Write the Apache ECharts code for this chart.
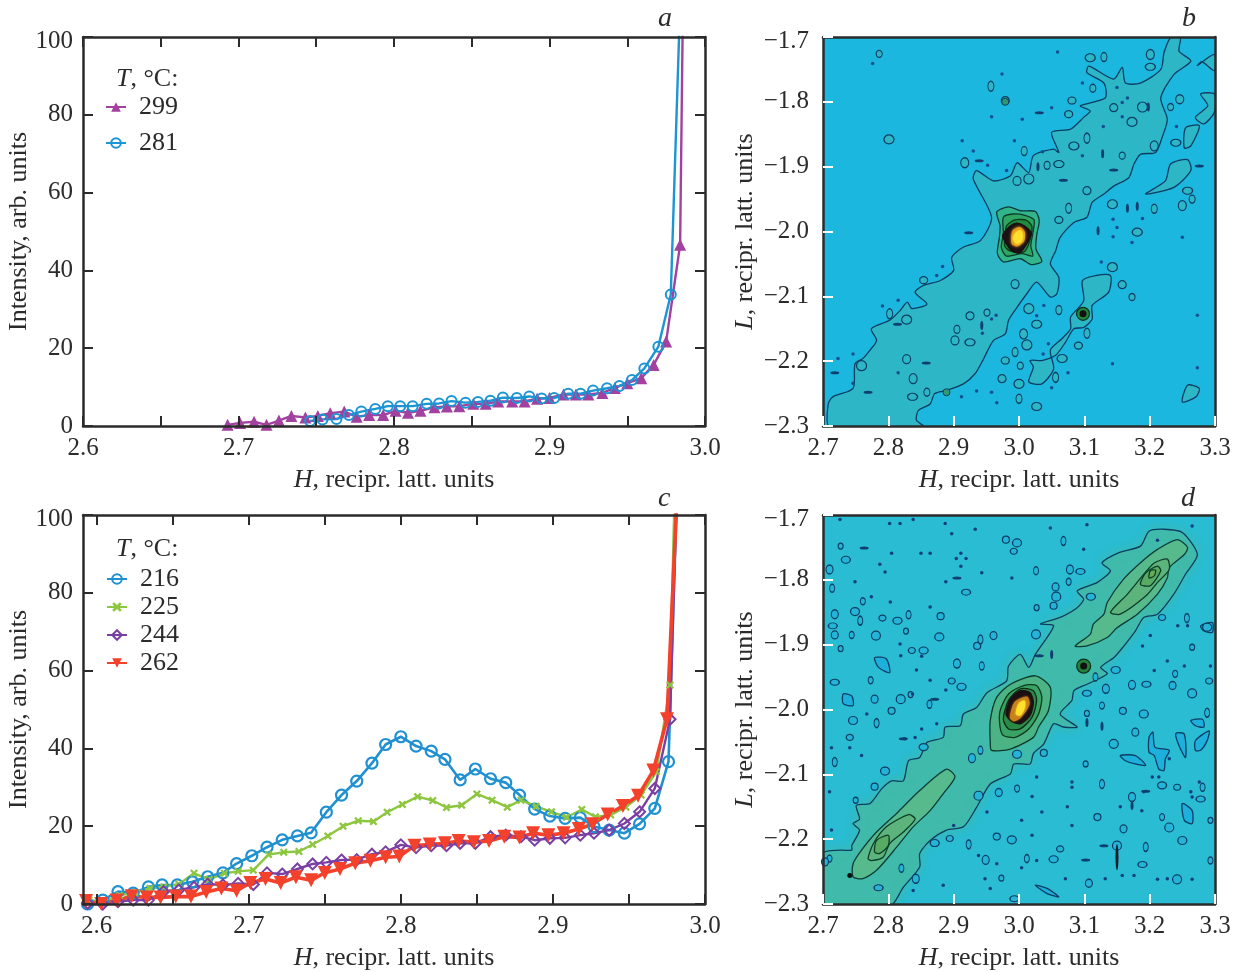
<!DOCTYPE html>
<html><head><meta charset="utf-8">
<style>html,body{margin:0;padding:0;background:#fff}#c{width:1240px;height:972px}</style>
<script src="https://cdn.jsdelivr.net/npm/echarts@6/dist/echarts.min.js"></script>
</head><body><div id="c"></div>
<script>
// ---------- panel a ----------
const aH299 = [2.693,2.701,2.710,2.718,2.726,2.734,2.743,2.751,2.759,2.768,2.776,2.784,2.793,2.801,2.809,2.817,2.826,2.834,2.842,2.851,2.859,2.867,2.876,2.884,2.892,2.900,2.909,2.917,2.925,2.934,2.942,2.950,2.959,2.967,2.975,2.984,2.992];
const aV299 = [0.3,0.8,1.1,0.3,1.4,2.6,2.2,2.6,3.3,3.7,2.4,2.8,2.8,3.9,3.4,3.9,4.8,5,5.1,5.7,5.7,6.3,6.3,6.3,7,7.2,8.1,8.1,8.1,8.5,9.8,11,12.3,15.7,21.7,46.6,320];
const aH281 = [2.746,2.754,2.763,2.771,2.779,2.788,2.796,2.804,2.812,2.821,2.829,2.837,2.846,2.854,2.862,2.870,2.879,2.887,2.895,2.903,2.912,2.920,2.928,2.937,2.945,2.953,2.961,2.970,2.978,2.987];
const aV281 = [1.3,1.7,1.8,2.8,3.7,4.4,5.1,5.1,5.1,5.7,5.8,6.4,6,6.2,6.5,7.3,7.2,7.6,7.1,7.2,8.3,8.3,9.1,9.7,10.3,11.8,14.8,20.4,33.8,146];
// ---------- panel c ----------
const cH216 = [2.594,2.604,2.614,2.624,2.634,2.643,2.653,2.663,2.673,2.683,2.692,2.702,2.712,2.722,2.732,2.741,2.751,2.761,2.771,2.781,2.790,2.800,2.810,2.820,2.829,2.839,2.849,2.859,2.869,2.878,2.888,2.898,2.908,2.918,2.927,2.937,2.947,2.957,2.967,2.976,2.986];
const cV216 = [0,1,3.2,2.8,4.4,4.9,4.9,5.7,7,8,10.4,12.4,14.6,16.5,17.5,18.3,23.6,28,31.6,36.2,41,43,40.6,39.3,37.2,31.9,34.7,32.2,31.2,28,24.4,22.6,22,22.2,19.9,19,18.2,20.6,24.6,36.6,160];
const cH225 = [2.595,2.605,2.615,2.625,2.635,2.644,2.654,2.664,2.674,2.684,2.693,2.703,2.713,2.723,2.733,2.742,2.752,2.762,2.772,2.782,2.791,2.801,2.811,2.821,2.830,2.840,2.850,2.860,2.870,2.879,2.889,2.899,2.909,2.919,2.928,2.938,2.948,2.958,2.968,2.977,2.987];
const cV225 = [1,0.6,2.2,2.9,4,4.4,5.1,7.9,6.3,7.9,8.4,8.7,12.7,13.3,13.5,15.3,17.5,20,21.4,21.2,23.6,25.6,27.6,26.6,24.8,25.4,28.3,26.7,24.9,26.7,25.1,23.7,22.3,24.3,22.4,22.9,24.9,28,34,56.3,221];
const cH244 = [2.594,2.604,2.614,2.624,2.634,2.644,2.654,2.664,2.673,2.683,2.693,2.703,2.712,2.722,2.732,2.742,2.751,2.761,2.771,2.781,2.790,2.800,2.810,2.820,2.830,2.839,2.849,2.859,2.869,2.879,2.888,2.898,2.908,2.918,2.927,2.937,2.947,2.957,2.967,2.977,2.987];
const cV244 = [0.2,0,0.6,1,1,3.2,3.6,4.3,5.1,4.9,5.3,5,8,7.7,9,10.3,10.7,11.3,11.4,12.8,13.4,15.2,14.5,15,15,15.6,15.6,17.3,17.7,17.3,16.4,16.9,17,17.7,18.2,19,20.7,23.7,29.7,47.5,179];
const cH262 = [2.593,2.603,2.613,2.623,2.633,2.642,2.652,2.662,2.672,2.682,2.692,2.701,2.711,2.721,2.731,2.741,2.750,2.760,2.770,2.780,2.790,2.799,2.809,2.819,2.829,2.838,2.848,2.858,2.868,2.878,2.887,2.897,2.907,2.917,2.926,2.936,2.946,2.956,2.966,2.975,2.985];
const cV262 = [0.8,0,0.9,2,1.7,1.7,1.9,1.9,3.1,4,3.4,5.4,6.4,5.4,6.9,6.1,8,9,10.5,11.1,12,12.2,15,15.3,15.6,16.2,15.9,16.2,17.3,17.1,18.2,17.7,18.2,19.3,20.5,23,25.2,27.8,34.3,47.5,135];
// ---------- tick labels ----------
const xTicks = [2.6,2.65,2.7,2.75,2.8,2.85,2.9,2.95,3.0];
const xLabels = [2.6,2.7,2.8,2.9,3.0];
const mapTicksH = [2.7,2.8,2.9,3.0,3.1,3.2,3.3];
const mapTicksL = [-2.3,-2.2,-2.1,-2.0,-1.9,-1.8,-1.7];
// ---------- panel b contours: [H, L] ----------
const bRidge = [[2.710,-2.301],[2.708,-2.266],[2.715,-2.255],[2.746,-2.242],[2.749,-2.204],[2.761,-2.196],[2.772,-2.183],[2.782,-2.168],[2.774,-2.150],[2.802,-2.137],[2.818,-2.122],[2.829,-2.109],[2.836,-2.119],[2.859,-2.112],[2.841,-2.094],[2.854,-2.083],[2.879,-2.076],[2.900,-2.060],[2.897,-2.040],[2.915,-2.024],[2.941,-2.014],[2.958,-1.978],[2.930,-1.919],[2.935,-1.906],[2.961,-1.922],[2.987,-1.914],[2.997,-1.894],[3.015,-1.909],[3.022,-1.883],[3.053,-1.873],[3.061,-1.878],[3.050,-1.847],[3.079,-1.842],[3.099,-1.824],[3.109,-1.814],[3.094,-1.806],[3.132,-1.794],[3.130,-1.771],[3.104,-1.755],[3.107,-1.745],[3.145,-1.765],[3.158,-1.747],[3.163,-1.771],[3.186,-1.771],[3.217,-1.750],[3.222,-1.724],[3.232,-1.701],[3.247,-1.701],[3.245,-1.722],[3.263,-1.737],[3.237,-1.758],[3.217,-1.794],[3.227,-1.827],[3.219,-1.855],[3.209,-1.878],[3.186,-1.881],[3.176,-1.896],[3.168,-1.917],[3.145,-1.930],[3.130,-1.942],[3.112,-1.955],[3.104,-1.978],[3.084,-1.986],[3.063,-2.009],[3.056,-2.030],[3.048,-2.050],[3.061,-2.071],[3.058,-2.096],[3.048,-2.101],[3.027,-2.078],[3.012,-2.096],[2.997,-2.117],[2.984,-2.137],[2.979,-2.158],[2.961,-2.168],[2.946,-2.196],[2.933,-2.219],[2.915,-2.235],[2.889,-2.245],[2.871,-2.250],[2.864,-2.266],[2.846,-2.276],[2.843,-2.291],[2.854,-2.301]];
const bLobe = [[3.097,-2.076],[3.117,-2.068],[3.140,-2.068],[3.137,-2.094],[3.112,-2.114],[3.112,-2.135],[3.099,-2.148],[3.084,-2.150],[3.071,-2.171],[3.056,-2.191],[3.035,-2.199],[3.017,-2.199],[3.022,-2.209],[3.015,-2.232],[3.035,-2.235],[3.053,-2.212],[3.048,-2.183],[3.066,-2.165],[3.079,-2.150],[3.079,-2.132],[3.099,-2.107]];
const bIslandA = [[3.273,-1.744],[3.299,-1.727],[3.299,-1.752],[3.280,-1.738]];
const bIslandB = [[3.278,-1.788],[3.299,-1.788],[3.299,-1.816],[3.283,-1.834],[3.270,-1.824],[3.289,-1.806]];
const bIslandC = [[3.255,-1.840],[3.276,-1.837],[3.263,-1.868],[3.253,-1.871]];
const bIslandD = [[3.232,-1.896],[3.258,-1.889],[3.263,-1.906],[3.237,-1.932],[3.194,-1.942],[3.224,-1.922]];
const bCorner = [[3.250,-2.263],[3.258,-2.237],[3.276,-2.242],[3.271,-2.255]];
const bPeak1 = [[2.966,-1.970],[2.984,-1.962],[3.002,-1.968],[3.025,-1.969],[3.031,-1.983],[3.027,-2.006],[3.026,-2.027],[3.035,-2.046],[3.019,-2.051],[3.002,-2.042],[2.976,-2.047],[2.967,-2.034],[2.970,-2.009],[2.971,-1.991]];
const bPeak2 = [[2.976,-1.978],[2.991,-1.973],[3.009,-1.975],[3.023,-1.982],[3.021,-2.004],[3.018,-2.022],[3.021,-2.038],[3.004,-2.034],[2.981,-2.038],[2.973,-2.025],[2.976,-2.004]];
const bPeak3 = [[2.981,-1.991],[2.994,-1.982],[3.012,-1.983],[3.020,-1.993],[3.014,-2.022],[3.007,-2.032],[2.986,-2.030],[2.978,-2.022],[2.979,-2.004]];
const bCore = [[2.975,-2.006],[2.986,-1.992],[2.996,-1.987],[3.008,-1.991],[3.019,-2.003],[3.010,-2.022],[3.001,-2.033],[2.989,-2.030],[2.980,-2.018]];
const bHot = [[2.989,-2.011],[2.991,-1.999],[3.001,-1.994],[3.008,-2.001],[3.007,-2.014],[2.997,-2.022],[2.990,-2.019]];
const bTop = [[2.992,-2.011],[2.995,-2.003],[3.002,-1.999],[3.005,-2.006],[3.003,-2.015],[2.996,-2.018]];
const bRings = [[2.786,-1.726],[2.979,-1.798],[2.801,-1.858],[2.957,-1.776],[3.081,-1.798],[3.109,-1.732],[3.130,-1.731],[3.201,-1.727],[3.201,-1.746],[3.113,-1.779],[3.246,-1.796],[3.189,-1.808],[3.232,-1.808],[3.145,-1.809],[3.173,-1.831],[3.104,-1.856],[3.076,-1.819],[3.084,-1.868],[3.008,-1.876],[2.917,-1.894],[3.061,-1.896],[3.043,-1.898],[2.997,-1.922],[3.015,-1.919],[3.158,-1.883],[3.104,-1.937],[3.143,-1.958],[3.076,-1.964],[3.061,-1.982],[3.181,-2.001],[3.207,-1.965],[3.250,-1.960],[3.258,-1.937],[3.265,-1.950],[2.994,-2.081],[3.015,-2.119],[2.951,-2.125],[2.925,-2.130],[2.828,-2.136],[2.802,-2.127],[2.854,-2.075],[3.027,-2.143],[3.061,-2.121],[3.007,-2.158],[2.925,-2.171],[2.905,-2.151],[2.902,-2.168],[3.012,-2.175],[3.002,-2.207],[2.974,-2.227],[3.000,-2.235],[3.056,-2.225],[2.979,-2.199],[3.027,-2.270],[3.000,-2.258],[2.838,-2.227],[2.837,-2.255],[2.859,-2.248],[2.828,-2.197],[2.759,-2.207],[3.173,-2.101],[3.158,-2.082],[3.143,-2.055],[3.104,-2.157],[3.091,-2.176],[3.066,-2.196],[2.994,-2.186],[3.207,-1.868],[3.240,-1.863]];
const bDots = [[2.776,-1.741],[3.059,-1.723],[2.974,-1.757],[2.958,-1.823],[3.005,-1.827],[3.050,-1.809],[2.913,-1.860],[2.930,-1.876],[2.993,-1.860],[3.036,-1.877],[2.883,-2.054],[2.874,-2.068],[2.815,-2.106],[2.791,-2.115],[2.952,-1.898],[2.981,-1.906],[3.097,-1.883],[3.129,-1.838],[3.158,-1.823],[3.097,-1.771],[3.150,-1.778],[3.166,-1.794],[3.158,-1.801],[3.241,-1.838],[3.150,-1.994],[3.144,-2.008],[3.173,-2.017],[3.189,-1.980],[3.144,-1.981],[3.250,-2.009],[3.126,-2.047],[3.038,-2.114],[3.027,-2.130],[3.273,-2.129],[3.273,-2.210],[3.143,-2.204],[3.075,-2.218],[3.050,-2.241],[2.935,-2.246],[2.958,-2.248],[2.966,-2.264],[2.912,-2.255],[2.815,-2.218],[2.746,-2.189],[2.746,-2.234],[2.723,-2.196],[2.958,-2.135],[2.965,-2.129],[2.944,-2.157],[3.045,-2.173],[3.037,-2.189]];
const bDashH = [[2.923,-2.002],[2.939,-1.891],[3.068,-1.921],[3.145,-1.905],[3.031,-1.817],[2.814,-2.143],[2.858,-2.203],[2.718,-2.218],[2.769,-2.248],[3.276,-1.899]];
const bDashV = [[3.029,-1.900],[3.128,-1.880],[3.166,-1.964],[3.181,-1.961],[3.121,-1.999],[2.943,-2.145],[3.198,-1.808]];
const bSpots = [[3.098,-2.127]];
const bGreens = [[2.889,-2.248],[2.979,-1.800]];
// ---------- panel d contours: [H, L] ----------
const dRidge = [[2.700,-2.304],[2.700,-2.222],[2.726,-2.217],[2.744,-2.217],[2.744,-2.210],[2.756,-2.186],[2.746,-2.176],[2.756,-2.169],[2.751,-2.148],[2.772,-2.145],[2.790,-2.122],[2.805,-2.110],[2.823,-2.110],[2.831,-2.079],[2.848,-2.074],[2.859,-2.051],[2.884,-2.043],[2.887,-2.027],[2.910,-2.025],[2.915,-2.007],[2.935,-1.997],[2.951,-1.974],[2.981,-1.956],[2.984,-1.933],[3.002,-1.915],[3.015,-1.935],[3.025,-1.915],[3.053,-1.871],[3.033,-1.868],[3.063,-1.858],[3.089,-1.843],[3.099,-1.830],[3.089,-1.817],[3.120,-1.804],[3.140,-1.786],[3.127,-1.774],[3.153,-1.758],[3.186,-1.748],[3.199,-1.725],[3.222,-1.722],[3.250,-1.727],[3.273,-1.761],[3.255,-1.791],[3.237,-1.822],[3.212,-1.853],[3.191,-1.858],[3.178,-1.879],[3.155,-1.909],[3.145,-1.920],[3.125,-1.935],[3.135,-1.945],[3.104,-1.961],[3.084,-1.971],[3.081,-1.986],[3.063,-2.007],[3.089,-2.027],[3.068,-2.027],[3.053,-2.022],[3.038,-2.053],[3.022,-2.068],[3.017,-2.084],[2.992,-2.084],[2.987,-2.099],[2.956,-2.115],[2.935,-2.151],[2.915,-2.181],[2.889,-2.186],[2.864,-2.202],[2.848,-2.222],[2.848,-2.243],[2.823,-2.274],[2.802,-2.304]];
const dPeak2 = [[2.956,-2.051],[2.956,-2.017],[2.966,-1.981],[2.987,-1.961],[3.025,-1.948],[3.048,-1.966],[3.045,-2.002],[3.030,-2.027],[3.022,-2.043],[2.987,-2.061],[2.958,-2.063]];
const dPeak3 = [[2.971,-2.027],[2.971,-2.002],[2.984,-1.976],[3.007,-1.963],[3.027,-1.963],[3.035,-1.981],[3.030,-2.007],[3.015,-2.030],[2.994,-2.043],[2.976,-2.040]];
const dPeak4 = [[2.976,-2.015],[2.984,-1.986],[3.002,-1.968],[3.022,-1.971],[3.027,-1.986],[3.020,-2.012],[3.002,-2.030],[2.984,-2.030]];
const dCore = [[2.980,-2.007],[2.987,-1.984],[3.002,-1.971],[3.017,-1.974],[3.022,-1.989],[3.017,-2.009],[3.002,-2.022],[2.988,-2.018]];
const dHot = [[2.987,-2.012],[2.994,-1.989],[3.012,-1.981],[3.015,-1.992],[3.002,-2.012],[2.992,-2.017]];
const dTop = [[2.996,-2.007],[3.000,-1.992],[3.008,-1.987],[3.008,-1.997],[3.002,-2.008]];
const dUp2 = [[3.086,-1.902],[3.109,-1.884],[3.114,-1.868],[3.130,-1.853],[3.135,-1.835],[3.160,-1.799],[3.189,-1.771],[3.212,-1.753],[3.242,-1.738],[3.258,-1.750],[3.253,-1.761],[3.230,-1.781],[3.227,-1.797],[3.212,-1.822],[3.181,-1.853],[3.150,-1.874],[3.135,-1.889],[3.104,-1.902]];
const dUp3 = [[3.140,-1.850],[3.166,-1.822],[3.189,-1.794],[3.207,-1.774],[3.227,-1.768],[3.230,-1.784],[3.212,-1.804],[3.194,-1.825],[3.155,-1.853]];
const dUp4 = [[3.186,-1.807],[3.194,-1.789],[3.212,-1.779],[3.217,-1.786],[3.201,-1.809]];
const dUp5 = [[3.199,-1.797],[3.201,-1.786],[3.209,-1.785],[3.207,-1.794]];
const dLow2 = [[2.746,-2.258],[2.746,-2.238],[2.759,-2.217],[2.782,-2.189],[2.815,-2.158],[2.848,-2.125],[2.889,-2.092],[2.902,-2.104],[2.884,-2.130],[2.864,-2.156],[2.838,-2.181],[2.813,-2.212],[2.782,-2.248],[2.761,-2.261]];
const dLow3 = [[2.769,-2.230],[2.777,-2.207],[2.797,-2.181],[2.831,-2.162],[2.841,-2.169],[2.823,-2.189],[2.802,-2.207],[2.792,-2.228],[2.774,-2.233]];
const dLow4 = [[2.779,-2.220],[2.782,-2.202],[2.800,-2.194],[2.800,-2.210],[2.787,-2.222]];
const dLakes = [
 [[3.199,-2.043],[3.205,-2.035],[3.208,-2.058],[3.230,-2.063],[3.224,-2.076],[3.222,-2.094],[3.214,-2.092],[3.207,-2.071],[3.199,-2.066]],
 [[3.240,-2.037],[3.253,-2.038],[3.255,-2.074],[3.245,-2.056]],
 [[3.270,-2.048],[3.291,-2.033],[3.288,-2.048],[3.278,-2.063],[3.270,-2.063]],
 [[3.155,-2.071],[3.178,-2.071],[3.194,-2.086],[3.178,-2.084],[3.163,-2.079]],
 [[2.779,-1.920],[2.797,-1.922],[2.802,-1.943],[2.785,-1.935]],
 [[2.731,-1.976],[2.744,-1.979],[2.746,-1.994],[2.731,-1.991]],
 [[3.250,-2.145],[3.265,-2.156],[3.265,-2.176],[3.253,-2.171]],
 [[3.263,-2.017],[3.281,-2.015],[3.283,-2.027],[3.270,-2.025]],
 [[3.278,-1.871],[3.296,-1.866],[3.296,-1.881],[3.283,-1.879]],
 [[3.025,-2.271],[3.043,-2.276],[3.061,-2.289],[3.043,-2.284]]
];
const dRings = [[2.727,-1.748],[2.980,-1.738],[2.997,-1.743],[3.068,-1.740],[2.992,-1.756],[2.735,-1.769],[3.026,-1.786],[3.078,-1.784],[3.094,-1.787],[3.076,-1.803],[3.056,-1.811],[3.057,-1.826],[3.027,-1.843],[3.053,-1.840],[2.749,-1.849],[2.757,-1.863],[2.791,-1.859],[2.814,-1.863],[2.831,-1.854],[2.718,-1.853],[2.715,-1.871],[2.744,-1.885],[2.718,-1.885],[2.781,-1.886],[2.827,-1.879],[2.880,-1.856],[3.288,-1.873],[3.257,-1.859],[3.219,-1.858],[3.110,-1.826],[2.714,-1.813],[2.710,-1.784],[2.919,-1.819],[2.761,-1.833],[2.961,-1.886],[3.026,-1.884],[2.727,-1.906],[2.936,-1.902],[2.878,-1.888],[2.941,-1.892],[2.836,-1.909],[2.854,-1.909],[2.943,-1.933],[2.905,-1.929],[2.718,-1.958],[2.773,-1.955],[2.779,-1.984],[2.819,-1.984],[2.834,-1.977],[2.805,-2.002],[2.746,-2.017],[2.782,-2.021],[2.897,-1.956],[2.912,-1.965],[2.863,-1.992],[3.173,-1.962],[3.195,-1.961],[3.239,-1.945],[3.235,-1.963],[3.265,-1.975],[3.104,-2.006],[3.159,-2.002],[3.191,-2.007],[3.288,-2.005],[3.291,-1.956],[3.148,-1.939],[3.117,-1.950],[3.133,-1.968],[3.104,-1.975],[3.127,-1.994],[3.178,-2.035],[3.145,-2.053],[3.102,-2.084],[3.038,-2.067],[2.997,-2.069],[3.127,-2.115],[3.242,-2.120],[3.219,-2.117],[3.281,-2.120],[3.173,-2.135],[3.278,-2.138],[3.219,-2.166],[3.160,-2.184],[3.230,-2.182],[3.293,-2.171],[3.120,-2.166],[3.250,-2.202],[3.194,-2.212],[3.063,-2.215],[3.053,-2.231],[3.012,-2.230],[2.949,-2.232],[3.189,-2.239],[3.293,-2.233],[3.107,-2.268],[3.242,-2.262],[2.973,-2.260],[2.966,-2.196],[2.989,-2.201],[2.923,-2.208],[2.894,-2.199],[2.871,-2.206],[2.820,-2.245],[2.842,-2.261],[2.785,-2.275],[2.997,-2.122],[2.969,-2.128],[2.938,-2.133],[2.750,-2.140],[2.779,-2.119],[2.795,-2.095],[2.718,-2.081],[2.741,-2.043],[2.854,-2.058],[2.941,-2.063],[2.928,-2.075],[2.993,-2.292],[2.710,-2.230],[2.703,-2.235],[3.150,-2.210],[3.265,-1.904]];
const dDots = [[2.787,-1.776],[2.795,-1.788],[2.805,-1.759],[2.850,-1.759],[2.864,-1.759],[2.897,-1.729],[2.933,-1.722],[2.887,-1.713],[2.802,-1.713],[2.818,-1.713],[2.726,-1.707],[2.838,-1.707],[2.989,-1.797],[2.943,-1.789],[2.888,-1.803],[2.749,-1.803],[2.774,-1.826],[2.864,-1.842],[2.803,-1.834],[2.818,-1.899],[2.819,-1.917],[2.851,-1.918],[2.843,-1.939],[2.864,-1.955],[2.888,-1.970],[2.837,-1.976],[2.767,-2.007],[2.874,-2.022],[2.825,-2.045],[2.841,-2.043],[2.851,-2.030],[2.759,-2.071],[2.741,-2.059],[2.713,-2.059],[2.710,-2.127],[2.713,-2.186],[2.911,-1.759],[2.904,-1.767],[2.919,-1.767],[2.911,-1.779],[3.027,-2.104],[3.020,-2.134],[3.081,-2.112],[3.081,-2.120],[3.074,-2.150],[3.035,-2.158],[3.004,-2.171],[3.081,-2.179],[3.214,-2.104],[3.204,-2.104],[3.155,-2.150],[3.188,-2.156],[3.265,-2.135],[3.263,-2.127],[3.191,-2.127],[3.230,-2.076],[3.293,-1.933],[3.253,-1.933],[3.227,-1.925],[3.207,-1.940],[3.189,-1.902],[3.201,-1.886],[3.258,-1.871],[3.243,-1.871],[3.212,-1.739],[3.104,-1.715],[3.048,-1.720],[3.099,-1.753],[3.265,-1.717],[3.212,-2.262],[3.176,-2.256],[3.158,-2.256],[3.132,-2.261],[3.071,-2.261],[2.948,-2.261],[2.956,-2.276],[2.966,-2.238],[3.004,-2.244],[3.027,-2.233],[3.020,-2.194],[2.951,-2.158],[2.938,-2.225],[2.900,-2.179],[2.884,-2.271],[2.838,-2.279],[3.227,-2.261],[3.265,-2.262],[3.276,-2.112]];
const dDashH = [[2.763,-1.751],[2.905,-1.797],[3.031,-1.917],[3.102,-2.232],[3.130,-2.210],[3.194,-2.126],[2.871,-1.984],[2.823,-2.045]];
const dDashV = [[3.050,-1.915],[3.173,-2.148],[3.104,-2.020],[3.127,-2.026]];
const dSpike = [[3.150,-2.228]];
const dSpots = [[3.099,-1.933]];
const dTiny = [[2.741,-2.256]];

const serif = '"Liberation Serif","Times New Roman",serif';
const ink = '#2b2b2b';
const grids = [
  {left:83,top:37,width:622,height:389},
  {left:823,top:37,width:392,height:389},
  {left:83,top:515,width:622,height:389},
  {left:823,top:515,width:392,height:389}
];
const edge = '#0d3d63';
const layersB = [
  {p:bRidge,f:'#2db7c6',s:edge},{p:bLobe,f:'#2db7c6',s:edge},{p:bIslandA,f:'#2db7c6',s:edge},{p:bIslandB,f:'#2db7c6',s:edge},{p:bIslandC,f:'#2db7c6',s:edge},{p:bIslandD,f:'#2db7c6',s:edge},{p:bCorner,f:'#2db7c6',s:edge},
  {p:bPeak1,f:'#33b58c',s:'#0c3a3a'},{p:bPeak2,f:'#2fa562',s:'#0c3a2a'},{p:bPeak3,f:'#1f8b3f',s:'#0c3a1a'},
  {p:bCore,f:'#1d1014',s:'#1d1014'},{p:bHot,f:'#e89a1c',s:'#e89a1c',b:3},{p:bTop,f:'#ffe12e',s:'#ffe12e',b:3}
];
const layersD = [
  {p:dRidge,f:'#40baaa',s:edge,b:8},
  {p:dUp2,f:'#56ba8c',s:'#0d3d3a'},{p:dUp3,f:'#5cb47c',s:'#0d3d2a'},{p:dUp4,f:'#58ab62',s:'#0d3d2a'},{p:dUp5,f:'#66ad55',s:'#0d3d2a'},
  {p:dLow2,f:'#56ba8c',s:'#0d3d3a'},{p:dLow3,f:'#5cb47c',s:'#0d3d2a'},{p:dLow4,f:'#58ab62',s:'#0d3d2a'},
  {p:dPeak2,f:'#4bb384',s:'#0c3a2a'},{p:dPeak3,f:'#3ba265',s:'#0c3a1a'},{p:dPeak4,f:'#2a8a45',s:'#0c2a14'},
  {p:dCore,f:'#1d1014',s:'#1d1014'},{p:dHot,f:'#c9801a',s:'#c9801a',b:2},{p:dTop,f:'#ffe12e',s:'#ffe12e',b:2}
].concat(dLakes.map(p=>({p,f:'#1eb0dc',s:edge})));

function contourSeries(idx, layers){
  return {type:'custom',xAxisIndex:idx,yAxisIndex:idx,coordinateSystem:'cartesian2d',clip:true,silent:true,z:3,
    data:layers.map((_,i)=>[i]),encode:{},
    renderItem(params,api){
      const l=layers[params.dataIndex];
      return {type:'polygon',shape:{points:l.p.map(q=>api.coord(q)),smooth:0.25},
        style:{fill:l.f,stroke:l.s,lineWidth:1.3,shadowBlur:l.b||0,shadowColor:l.f}};
    }};
}
function blobs(idx,data,size,fill,stroke,bw){
  return {type:'scatter',xAxisIndex:idx,yAxisIndex:idx,data,symbol:'circle',symbolSize:size,silent:true,z:4,clip:true,
    itemStyle:{color:fill,borderColor:stroke||fill,borderWidth:bw||0,opacity:1},animation:false};
}
// irregular ring outlines: width and height cycle so the islands do not look stamped
const ringSize = base => (v,p)=>[base+(p.dataIndex%3)*2, base+1+(p.dataIndex%4)];
function traceSeries(idx,name,hs,vs,color,symbol,size,hollow,rot,lw,bw){
  return {type:'line',name,xAxisIndex:idx,yAxisIndex:idx,data:hs.map((h,i)=>[h,vs[i]]),clip:true,
    symbol,symbolSize:size,symbolRotate:rot||0,showSymbol:true,color,
    lineStyle:{color,width:lw||2.4},
    itemStyle:hollow?{color:'rgba(255,255,255,0)',borderColor:color,borderWidth:bw||2}:{color,borderColor:color,borderWidth:0}};
}
const nameRich = {i:{fontFamily:serif,fontStyle:'italic',fontSize:26,color:ink}};
function axisPair(idx, isMap){
  const g=idx;
  const col = isMap?'#fff':ink;
  const commonLine = {show:true,onZero:false,lineStyle:{color:'#2b2b2b',width:2.5}};
  const label = {fontFamily:serif,fontSize:25,color:ink};
  const xt = isMap?mapTicksH:xTicks, xl = isMap?mapTicksH:xLabels;
  const min = isMap?2.7:(idx===2?2.591:2.6), max = isMap?3.3:3.0;
  const yMax = isMap?-1.7:100;
  const fmtY = v=>{
    const s = isMap?Number(v).toFixed(1).replace('-','\u2212'):String(v);
    return v===yMax?'{t|'+s+'}':s;
  };
  const xs=[{type:'value',gridIndex:g,min,max,position:'bottom',z:10,splitLine:{show:false},axisLine:commonLine,
      axisTick:{show:true,inside:true,length:10,lineStyle:{color:col,width:2},customValues:xt},
      axisLabel:Object.assign({},label,{margin:10,customValues:xl,formatter:v=>Number(v).toFixed(1)}),
      name:'{i|H}, recipr. latt. units',nameLocation:'middle',nameGap:41,nameTextStyle:{fontFamily:serif,fontSize:26,color:ink,rich:nameRich}},
    {type:'value',gridIndex:g,min,max,position:'top',z:10,splitLine:{show:false},axisLine:commonLine,
      axisTick:{show:!isMap,inside:true,length:10,lineStyle:{color:ink,width:2},customValues:xt},
      axisLabel:{show:false}}];
  const yt = isMap?mapTicksL:undefined;
  const ys=[{type:'value',gridIndex:g,min:isMap?-2.3:0,max:yMax,interval:isMap?undefined:20,position:'left',z:10,splitLine:{show:false},axisLine:commonLine,
      axisTick:Object.assign({show:true,inside:true,length:10,lineStyle:{color:col,width:2}},isMap?{customValues:yt}:{}),
      axisLabel:Object.assign({},label,{margin:isMap?14:10,formatter:fmtY,rich:{t:{fontFamily:serif,fontSize:25,color:ink,padding:[8,0,0,0]}}},isMap?{customValues:yt}:{}),
      name:isMap?'{i|L}, recipr. latt. units':'Intensity, arb. units',nameLocation:'middle',nameMoveOverlap:false,nameGap:isMap?65:51,nameTextStyle:{fontFamily:serif,fontSize:26,color:ink,rich:nameRich}},
    {type:'value',gridIndex:g,min:isMap?-2.3:0,max:yMax,interval:isMap?undefined:20,position:'right',z:10,splitLine:{show:false},axisLine:commonLine,
      axisTick:Object.assign({show:!isMap,inside:true,length:10,lineStyle:{color:ink,width:2}},isMap?{customValues:yt}:{}),
      axisLabel:{show:false}}];
  return {xs,ys};
}
const panels=[axisPair(0,false),axisPair(1,true),axisPair(2,false),axisPair(3,true)];
const xAxis=panels.map(p=>p.xs[0]).concat(panels.map(p=>p.xs[1]));
const yAxis=panels.map(p=>p.ys[0]).concat(panels.map(p=>p.ys[1]));
const panelTitle=(t,x,y)=>({text:t,left:x,top:y,textStyle:{fontFamily:serif,fontStyle:'italic',fontWeight:'normal',fontSize:28,color:ink}});
const legendTitle=(x,y)=>({text:'{i|T}, \u00b0C:',left:x,top:y,textStyle:{fontFamily:serif,fontWeight:'normal',fontSize:26,color:ink,rich:nameRich}});
const xMark='path://M0 2L2 0L5 3L8 0L10 2L7 5L10 8L8 10L5 7L2 10L0 8L3 5Z';

const option={
  animation:false,backgroundColor:'#fff',
  title:[panelTitle('a',653,0),panelTitle('b',1177,0),panelTitle('c',653,480),panelTitle('d',1176,480),legendTitle(111,61),legendTitle(111,531)],
  grid:[
    Object.assign({show:false,outerBoundsMode:'none'},grids[0]),
    Object.assign({show:true,backgroundColor:'#1cb7df',borderWidth:0,outerBoundsMode:'none'},grids[1]),
    Object.assign({show:false,outerBoundsMode:'none'},grids[2]),
    Object.assign({show:true,backgroundColor:'#2abcd2',borderWidth:0,outerBoundsMode:'none'},grids[3])
  ],
  xAxis,yAxis,
  legend:[
    {data:['299','281'],orient:'vertical',left:100,top:87,itemWidth:20,itemHeight:12,itemGap:6,selectedMode:false,textStyle:{fontFamily:serif,fontSize:26,color:ink,padding:[0,0,0,8],lineHeight:30}},
    {data:['216','225','244','262'],orient:'vertical',left:101,top:560,itemWidth:20,itemHeight:12,itemGap:0,selectedMode:false,textStyle:{fontFamily:serif,fontSize:26,color:ink,padding:[0,0,0,8],lineHeight:28}}
  ],
  series:[
    traceSeries(0,'299',aH299,aV299,'#a2419f','triangle',12,false),
    traceSeries(0,'281',aH281,aV281,'#1b95d3','circle',10,true),
    traceSeries(2,'216',cH216,cV216,'#1f90d0','circle',11,true,0,2.6,2.2),
    traceSeries(2,'225',cH225,cV225,'#8dc63f',xMark,8,false),
    traceSeries(2,'244',cH244,cV244,'#7a3fa2','diamond',11,true,0,2.4,2),
    traceSeries(2,'262',cH262,cV262,'#f4412b','triangle',14,false,180,3.6),
    contourSeries(1,layersB),
    blobs(1,bRings,ringSize(6),'#2db7c6',edge,1.2),
    blobs(1,bDots,3.5,'#14508f'),
    blobs(1,bDashH,[9,3],'#0f3f70'),
    blobs(1,bDashV,[3,9],'#0f3f70'),
    blobs(1,bGreens,7,'#2f9a70',edge,1),
    blobs(1,bSpots,13,'#1e8a3e','#0c3020',1.2),
    blobs(1,bSpots,7,'#14100f'),
    contourSeries(3,layersD),
    blobs(3,dRings,ringSize(5),'#24b4d8',edge,1.2),
    blobs(3,dDots,3.5,'#123f80'),
    blobs(3,dDashH,[9,3],'#0f3f70'),
    blobs(3,dDashV,[3,9],'#0f3f70'),
    blobs(3,dSpike,[3,26],'#14202f'),
    blobs(3,dSpots,14,'#24803c','#0c3020',1.2),
    blobs(3,dSpots,7,'#14100f'),
    blobs(3,dTiny,5,'#14100f')
  ]
};
echarts.init(document.getElementById('c'),null,{renderer:'canvas'}).setOption(option);
</script></body></html>
